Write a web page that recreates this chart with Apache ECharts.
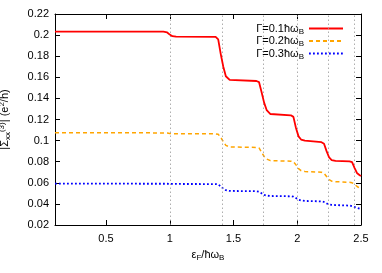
<!DOCTYPE html>
<html><head><meta charset="utf-8">
<script src="https://cdn.jsdelivr.net/npm/echarts@6/dist/echarts.min.js"></script>
<style>html,body{margin:0;padding:0;background:#fff}#c{width:382px;height:273px}</style>
</head><body><div id="c"></div>
<script>
const energy = [0.10,0.95,0.98,1.00,1.02,1.05,1.36,1.38,1.40,1.42,1.44,1.47,1.68,1.70,1.72,1.74,1.76,1.79,1.95,1.97,1.99,2.01,2.03,2.06,2.19,2.21,2.23,2.25,2.27,2.30,2.41,2.43,2.45,2.47,2.49,2.50];
const gamma01 = [0.2032,0.2032,0.2025,0.2005,0.1990,0.1985,0.1983,0.1960,0.1820,0.1700,0.1610,0.1575,0.1565,0.1555,0.1460,0.1360,0.1290,0.1252,0.1240,0.1225,0.1120,0.1040,0.1010,0.1000,0.0985,0.0970,0.0900,0.0840,0.0815,0.0807,0.0803,0.0795,0.0740,0.0690,0.0672,0.0664];
const gamma02 = [0.1075,0.1073,0.1071,0.1068,0.1066,0.1065,0.1064,0.1060,0.1030,0.0990,0.0955,0.0940,0.0935,0.0930,0.0890,0.0850,0.0825,0.0810,0.0805,0.0800,0.0770,0.0735,0.0715,0.0707,0.0700,0.0690,0.0660,0.0630,0.0615,0.0611,0.0605,0.0600,0.0585,0.0565,0.0550,0.0541];
const gamma03 = [0.0592,0.0591,0.0591,0.0590,0.0589,0.0589,0.0588,0.0585,0.0565,0.0545,0.0530,0.0523,0.0520,0.0515,0.0500,0.0485,0.0478,0.0475,0.0472,0.0468,0.0455,0.0440,0.0432,0.0428,0.0424,0.0418,0.0405,0.0395,0.0391,0.0389,0.0384,0.0378,0.0370,0.0362,0.0355,0.0352];
const levelLines = [1, 1.4142, 1.7321, 2, 2.2361, 2.4495];
const xTicks = [0.5, 1, 1.5, 2, 2.5];
const seriesNames = ['Γ=0.1', 'Γ=0.2', 'Γ=0.3'];

const font = 'Liberation Sans, Arial, sans-serif';
const pair = (ys) => energy.map((x, i) => [x, ys[i]]);
const chart = echarts.init(document.getElementById('c'), null, {renderer: 'canvas'});
const axisLineStyle = {color: '#000', width: 1};
chart.setOption({
  animation: false,
  textStyle: {fontFamily: font},
  grid: {left: 55, right: 21, top: 14, bottom: 48, containLabel: false, outerBoundsMode: 'none'},
  legend: {
    orient: 'vertical', right: 33, top: 18, align: 'right', itemGap: 0,
    itemWidth: 34, itemHeight: 10,
    itemStyle: {opacity: 0},
    data: seriesNames,
    formatter: (n) => '{a|' + n + 'ħω}{s|B}',
    textStyle: {
      fontFamily: font, color: '#000',
      rich: {a: {fontSize: 11, fontFamily: font, color: '#000'}, s: {fontSize: 8, fontFamily: font, color: '#000', padding: [6, 0, 0, 0]}}
    }
  },
  xAxis: [{
    type: 'value', min: 0.1, max: 2.5, position: 'bottom',
    name: '{a|ε}{s|F}{a|/ħω}{s|B}', nameLocation: 'middle', nameGap: 23,
    nameTextStyle: {rich: {a: {fontSize: 11, fontFamily: font, color: '#000'}, s: {fontSize: 8, fontFamily: font, color: '#000', padding: [6, 0, 0, 0]}}},
    axisLine: {lineStyle: axisLineStyle},
    axisTick: {inside: true, length: 5, customValues: xTicks, lineStyle: axisLineStyle},
    axisLabel: {customValues: xTicks, color: '#000', fontSize: 11, fontFamily: font, margin: 8},
    splitLine: {show: false}
  }, {
    type: 'value', min: 0.1, max: 2.5, position: 'top',
    axisLine: {lineStyle: axisLineStyle},
    axisTick: {inside: true, length: 5, customValues: xTicks, lineStyle: axisLineStyle},
    axisLabel: {show: false}, splitLine: {show: false}
  }],
  yAxis: [{
    type: 'value', min: 0.02, max: 0.22, interval: 0.02, position: 'left',
    name: '|Σ{sb|xx}{sp|(3)}| (e{sp|2}/h)', nameLocation: 'middle', nameGap: 43, nameRotate: 90,
    nameTextStyle: {fontSize: 11, fontFamily: font, color: '#000',
      rich: {sb: {fontSize: 8, fontFamily: font, color: '#000', padding: [6, 0, 0, 0]}, sp: {fontSize: 8, fontFamily: font, color: '#000', padding: [0, 0, 6, 0]}}},
    axisLine: {lineStyle: axisLineStyle},
    axisTick: {inside: true, length: 5, lineStyle: axisLineStyle},
    axisLabel: {color: '#000', fontSize: 11, fontFamily: font, margin: 6},
    splitLine: {show: false}
  }, {
    type: 'value', min: 0.02, max: 0.22, interval: 0.02, position: 'right',
    axisLine: {lineStyle: axisLineStyle},
    axisTick: {inside: true, length: 5, lineStyle: axisLineStyle},
    axisLabel: {show: false}, splitLine: {show: false}
  }],
  series: [{
    name: seriesNames[0], type: 'line', data: pair(gamma01), symbol: 'none', z: 5,
    color: '#ff0000', lineStyle: {color: '#ff0000', width: 1.8, type: 'solid'},
    markLine: {silent: true, symbol: 'none', label: {show: false},
      lineStyle: {color: '#999', width: 0.8, type: [1.5, 2.5]},
      data: levelLines.map(v => ({xAxis: v}))}
  }, {
    name: seriesNames[1], type: 'line', data: pair(gamma02), symbol: 'none', z: 4,
    color: '#ffa500', lineStyle: {color: '#ffa500', width: 1.5, type: [4, 3]}
  }, {
    name: seriesNames[2], type: 'line', data: pair(gamma03), symbol: 'none', z: 3,
    color: '#0000ff', lineStyle: {color: '#0000ff', width: 1.8, type: [1.8, 2.2]}
  }]
});
</script></body></html>
